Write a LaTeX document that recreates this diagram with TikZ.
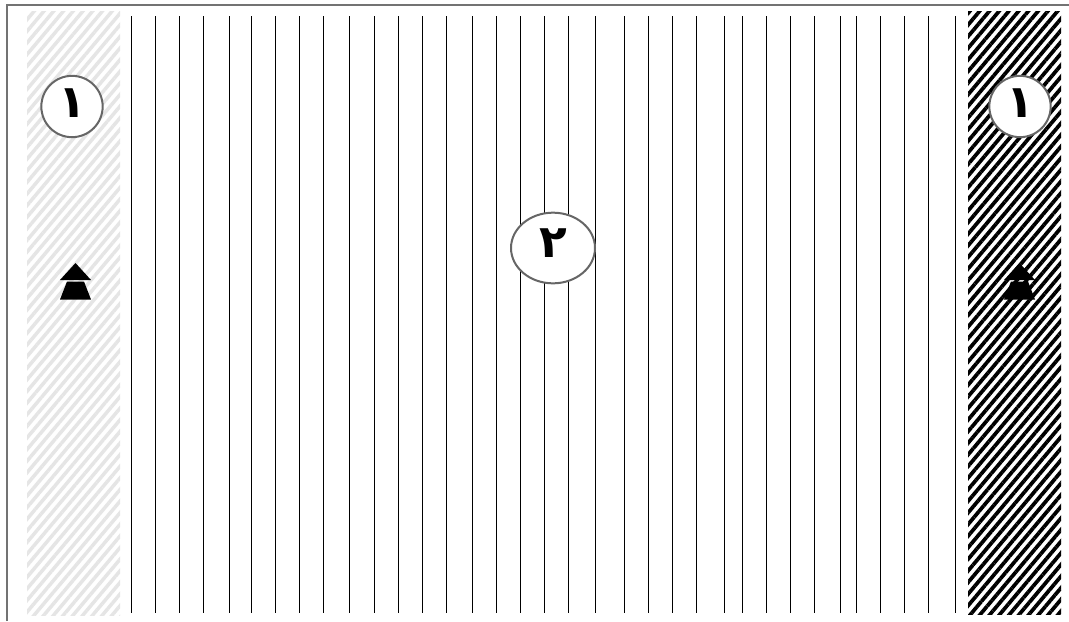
\documentclass[tikz,border=0pt]{standalone}
\usepackage{fontspec}
\newfontfamily\arabicfont[Script=Arabic]{DejaVu Sans}
\usetikzlibrary{patterns.meta,shapes.geometric}
\tikzset{
  frameline/.style={draw=black!55,line width=1.6pt},
  vline/.style={draw=black,line width=0.75pt},
  lightstrip/.style={pattern={Lines[angle=50,distance=5.6pt,line width=2.6pt]},pattern color=black!10},
  darkstrip/.style={pattern={Lines[angle=50,distance=5.6pt,line width=2.8pt]},pattern color=black},
  numfont/.style={font=\arabicfont\bfseries\fontsize{34}{36}\selectfont},
  numcircle/.style={circle,draw=black!60,line width=1.5pt,fill=white,minimum size=46pt,inner sep=0pt,numfont},
  numellipse/.style={ellipse,draw=black!60,line width=1.5pt,fill=white,minimum width=63pt,minimum height=53pt,inner sep=0pt,numfont},
  tri/.style={fill=black}
}
\begin{document}
\begin{tikzpicture}[x=0.75pt,y=-0.75pt]
\useasboundingbox (0,0) rectangle (1069,621);
\fill[white] (0,0) rectangle (1069,621);
% strips
\fill[white] (27,11) rectangle (120,615);
\path[lightstrip] (27,11) rectangle (120,615);
\fill[white] (968,11) rectangle (1061,614);
\path[darkstrip] (968,11) rectangle (1061,614);
% vertical lines
\foreach \x in {131.7,155.3,179.3,203.3,229.3,251.3,275.3,299.3,323.3,349.3,374,398,422.7,446,472.7,496.7,520.7,544.7,568.7,595.3,624.7,648.7,672.7,696.7,724,742,766.7,790,814,840.7,856.7,880.7,904.7,928.7,955.3}
  \draw[vline] (\x,16) -- (\x,613);
% frame
\draw[frameline] (7,621) -- (7,5) -- (1069,5);
% triangles left
\fill[tri] (60,299.5) -- (91,299.5) -- (84,281.5) -- (67,281.5) -- cycle;
\fill[tri] (60,280) -- (91,280) -- (75.5,263) -- cycle;
% triangles right
\fill[tri] (1004,299.5) -- (1035,299.5) -- (1028,281.5) -- (1011,281.5) -- cycle;
\fill[tri] (1004,280) -- (1035,280) -- (1019.5,263) -- cycle;
% labels
\node[numcircle] (c1) at (72,106.5) {};
\node[numcircle] (c2) at (1020,106.5) {};
\node[numellipse] (c3) at (553,248) {};
\node[numfont] (t1) at (72,103) {١};
\node[numfont] (t2) at (1020,103) {١};
\node[numfont] (t3) at (553,243) {٢};
\end{tikzpicture}
\end{document}
